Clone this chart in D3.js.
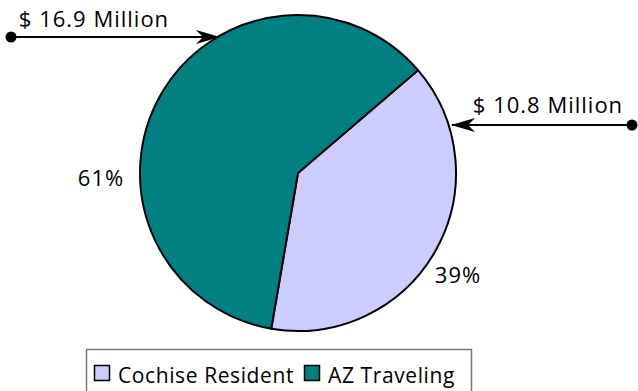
<!DOCTYPE html>
<meta charset='utf-8'>
<style>
body { margin: 0; background: #fff; }
text { font-family: 'Open Sans', sans-serif; fill: #000; }
</style>
<svg width='638' height='391'></svg>
<script src='https://d3js.org/d3.v7.min.js'></script>
<script>

var categories = ['Cochise Resident', 'AZ Traveling'];
var amounts = [10.8, 16.9];
var percentLabels = ['39%', '61%'];
var amountLabels = ['$ 10.8 Million', '$ 16.9 Million'];
var colors = ['#ccccff', '#008080'];

var svg = d3.select('svg');

var cx = 298, cy = 173, r = 158;

var pie = d3.pie().sort(null)
  .startAngle(49.4 * Math.PI / 180)
  .endAngle(49.4 * Math.PI / 180 + 2 * Math.PI);
var arc = d3.arc().innerRadius(0).outerRadius(r);

var g = svg.append('g').attr('transform', 'translate(' + cx + ',' + cy + ')');

g.selectAll('path')
  .data(pie(amounts))
  .enter().append('path')
    .attr('d', arc)
    .attr('fill', function(d, i) { return colors[i]; })
    .attr('stroke', '#000')
    .attr('stroke-width', 2)
    .attr('stroke-linejoin', 'round');

// percent labels
var pctPos = [[458, 283], [101, 186]];
svg.selectAll('.pct')
  .data(percentLabels)
  .enter().append('text')
    .attr('class', 'pct')
    .attr('x', function(d, i) { return pctPos[i][0]; })
    .attr('y', function(d, i) { return pctPos[i][1]; })
    .attr('text-anchor', 'middle')
    .attr('font-size', '22px')
    .attr('letter-spacing', '1px')
    .text(function(d) { return d; });

// arrow markers
svg.append('defs').append('marker')
    .attr('id', 'head')
    .attr('viewBox', '0 0 24 14')
    .attr('refX', 23)
    .attr('refY', 7)
    .attr('markerWidth', 24)
    .attr('markerHeight', 14)
    .attr('markerUnits', 'userSpaceOnUse')
    .attr('orient', 'auto')
  .append('path')
    .attr('d', 'M0,0 L24,7 L0,14 L7,7 Z')
    .attr('fill', '#000');

var arrows = [
  { from: [632, 125], to: [452, 125], text: [548, 113] },
  { from: [11, 37], to: [219, 37], text: [94, 27] }
];

arrows.forEach(function(a, i) {
  svg.append('line')
    .attr('x1', a.from[0]).attr('y1', a.from[1])
    .attr('x2', a.to[0]).attr('y2', a.to[1])
    .attr('stroke', '#000')
    .attr('stroke-width', 2)
    .attr('marker-end', 'url(#head)');
  svg.append('circle')
    .attr('cx', a.from[0]).attr('cy', a.from[1])
    .attr('r', 5.5)
    .attr('fill', '#000');
  svg.append('text')
    .attr('x', a.text[0]).attr('y', a.text[1])
    .attr('text-anchor', 'middle')
    .attr('font-size', '22px')
    .attr('letter-spacing', '1px')
    .text(amountLabels[i]);
});

// legend
svg.append('rect')
  .attr('x', 86.5).attr('y', 349.5)
  .attr('width', 385).attr('height', 50)
  .attr('fill', '#fff')
  .attr('stroke', '#777')
  .attr('stroke-width', 1.5);

var legendX = [94, 304];
var lg = svg.selectAll('.leg')
  .data(categories)
  .enter().append('g')
    .attr('class', 'leg')
    .attr('transform', function(d, i) { return 'translate(' + legendX[i] + ',365)'; });

lg.append('rect')
  .attr('x', 0.5).attr('y', 0.5)
  .attr('width', 15).attr('height', 15)
  .attr('fill', function(d, i) { return colors[i]; })
  .attr('stroke', '#000')
  .attr('stroke-width', 1.5);

lg.append('text')
  .attr('x', 24)
  .attr('y', 18)
  .attr('font-size', '21px')
  .attr('letter-spacing', '0.6px')
  .text(function(d) { return d; });

</script>
